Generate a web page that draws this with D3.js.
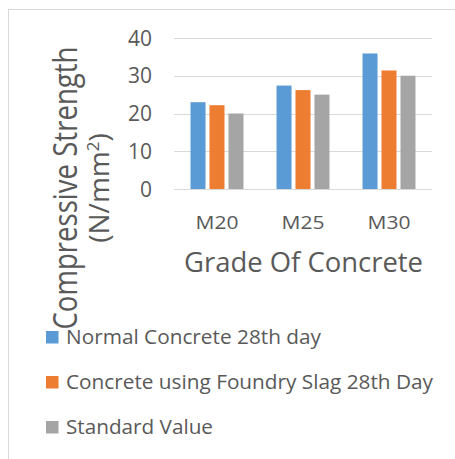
<!DOCTYPE html>
<html lang="en">
<head>
    <meta charset="UTF-8">
    <title>Compressive Strength by Grade</title>
    <script src="https://d3js.org/d3.v7.min.js"></script>
    <style>
        body {
            margin: 0;
            padding: 0;
            background: #fff;
        }
        text {
            font-family: "Open Sans", "Noto Sans", sans-serif;
            fill: #595959;
        }
    </style>
</head>
<body>
    <svg id="chart" width="455" height="459"></svg>

    <script>
        // categories and series
        const grades = ["M20", "M25", "M30"];
        const seriesNames = [
            "Normal Concrete 28th day",
            "Concrete using Foundry Slag 28th Day",
            "Standard Value"
        ];
        const normalValues = [23, 27.4, 35.9];
        const slagValues = [22.2, 26.2, 31.4];
        const standardValues = [20, 25, 30];
        const yTicks = [0, 10, 20, 30, 40];
        const colors = ["#5b9bd5", "#ed7d31", "#a5a5a5"];

        const allValues = [normalValues, slagValues, standardValues];
        // widths the legend labels take in the picture
        const legendWidths = [255, 367, 147];

        const svg = d3.select("#chart");

        // outer chart border
        svg.append("rect")
            .attr("x", 8.5)
            .attr("y", 9.5)
            .attr("width", 470)
            .attr("height", 470)
            .attr("fill", "none")
            .attr("stroke", "#d9d9d9")
            .attr("stroke-width", 1);

        const plot = { left: 174, right: 432, top: 38, bottom: 189 };

        const yScale = d3.scaleLinear()
            .domain([0, 40])
            .range([plot.bottom, plot.top]);

        const x0 = d3.scaleBand()
            .domain(grades)
            .range([plot.left, plot.right])
            .paddingInner(0.384)
            .paddingOuter(0.192);

        const x1 = d3.scaleBand()
            .domain(seriesNames)
            .range([0, x0.bandwidth()])
            .paddingInner(0.21)
            .paddingOuter(0);

        // gridlines
        svg.append("g")
            .selectAll("line")
            .data(yTicks)
            .enter().append("line")
            .attr("x1", plot.left)
            .attr("x2", plot.right)
            .attr("y1", d => Math.round(yScale(d)) + 0.5)
            .attr("y2", d => Math.round(yScale(d)) + 0.5)
            .attr("stroke", "#d9d9d9")
            .attr("stroke-width", 1.2);

        // y tick labels
        svg.append("g")
            .selectAll("text")
            .data(yTicks)
            .enter().append("text")
            .attr("x", 152)
            .attr("y", d => yScale(d))
            .attr("dy", "0.36em")
            .attr("text-anchor", "end")
            .style("font-size", "21px")
            .text(d => d);

        // bars
        const groups = svg.append("g")
            .selectAll("g")
            .data(grades)
            .enter().append("g")
            .attr("transform", d => `translate(${x0(d)},0)`);

        groups.selectAll("rect")
            .data((g, gi) => seriesNames.map((s, si) => ({ s: s, si: si, v: allValues[si][gi] })))
            .enter().append("rect")
            .attr("x", d => x1(d.s))
            .attr("y", d => yScale(d.v))
            .attr("width", x1.bandwidth())
            .attr("height", d => yScale(0) - yScale(d.v))
            .attr("fill", d => colors[d.si]);

        // x tick labels
        svg.append("g")
            .selectAll("text")
            .data(grades)
            .enter().append("text")
            .attr("x", d => x0(d) + x0.bandwidth() / 2)
            .attr("y", 228.5)
            .attr("text-anchor", "middle")
            .attr("textLength", 43)
            .attr("lengthAdjust", "spacingAndGlyphs")
            .style("font-size", "19px")
            .text(d => d);

        // x axis title
        svg.append("text")
            .attr("x", 303.5)
            .attr("y", 272)
            .attr("text-anchor", "middle")
            .attr("textLength", 239)
            .attr("lengthAdjust", "spacingAndGlyphs")
            .style("font-size", "28px")
            .text("Grade Of Concrete");

        // y axis title (two lines, rotated)
        svg.append("text")
            .attr("transform", "translate(77,188) rotate(-90)")
            .attr("text-anchor", "middle")
            .attr("textLength", 283)
            .attr("lengthAdjust", "spacingAndGlyphs")
            .style("font-size", "32px")
            .text("Compressive Strength");

        const line2 = svg.append("text")
            .attr("transform", "translate(108.5,188) rotate(-90)")
            .attr("text-anchor", "middle")
            .style("font-size", "28px");
        line2.append("tspan").text("(N/mm");
        line2.append("tspan")
            .attr("dy", -10)
            .style("font-size", "17px")
            .text("2");
        line2.append("tspan")
            .attr("dy", 10)
            .text(")");

        // legend
        const legend = svg.append("g")
            .selectAll("g")
            .data(seriesNames)
            .enter().append("g")
            .attr("transform", (d, i) => `translate(46,${331 + i * 45})`);

        legend.append("rect")
            .attr("width", 12.5)
            .attr("height", 12.5)
            .attr("fill", (d, i) => colors[i]);

        legend.append("text")
            .attr("x", 20)
            .attr("y", 12.5)
            .attr("textLength", (d, i) => legendWidths[i])
            .attr("lengthAdjust", "spacingAndGlyphs")
            .style("font-size", "19.5px")
            .text(d => d);
    </script>
</body>
</html>
